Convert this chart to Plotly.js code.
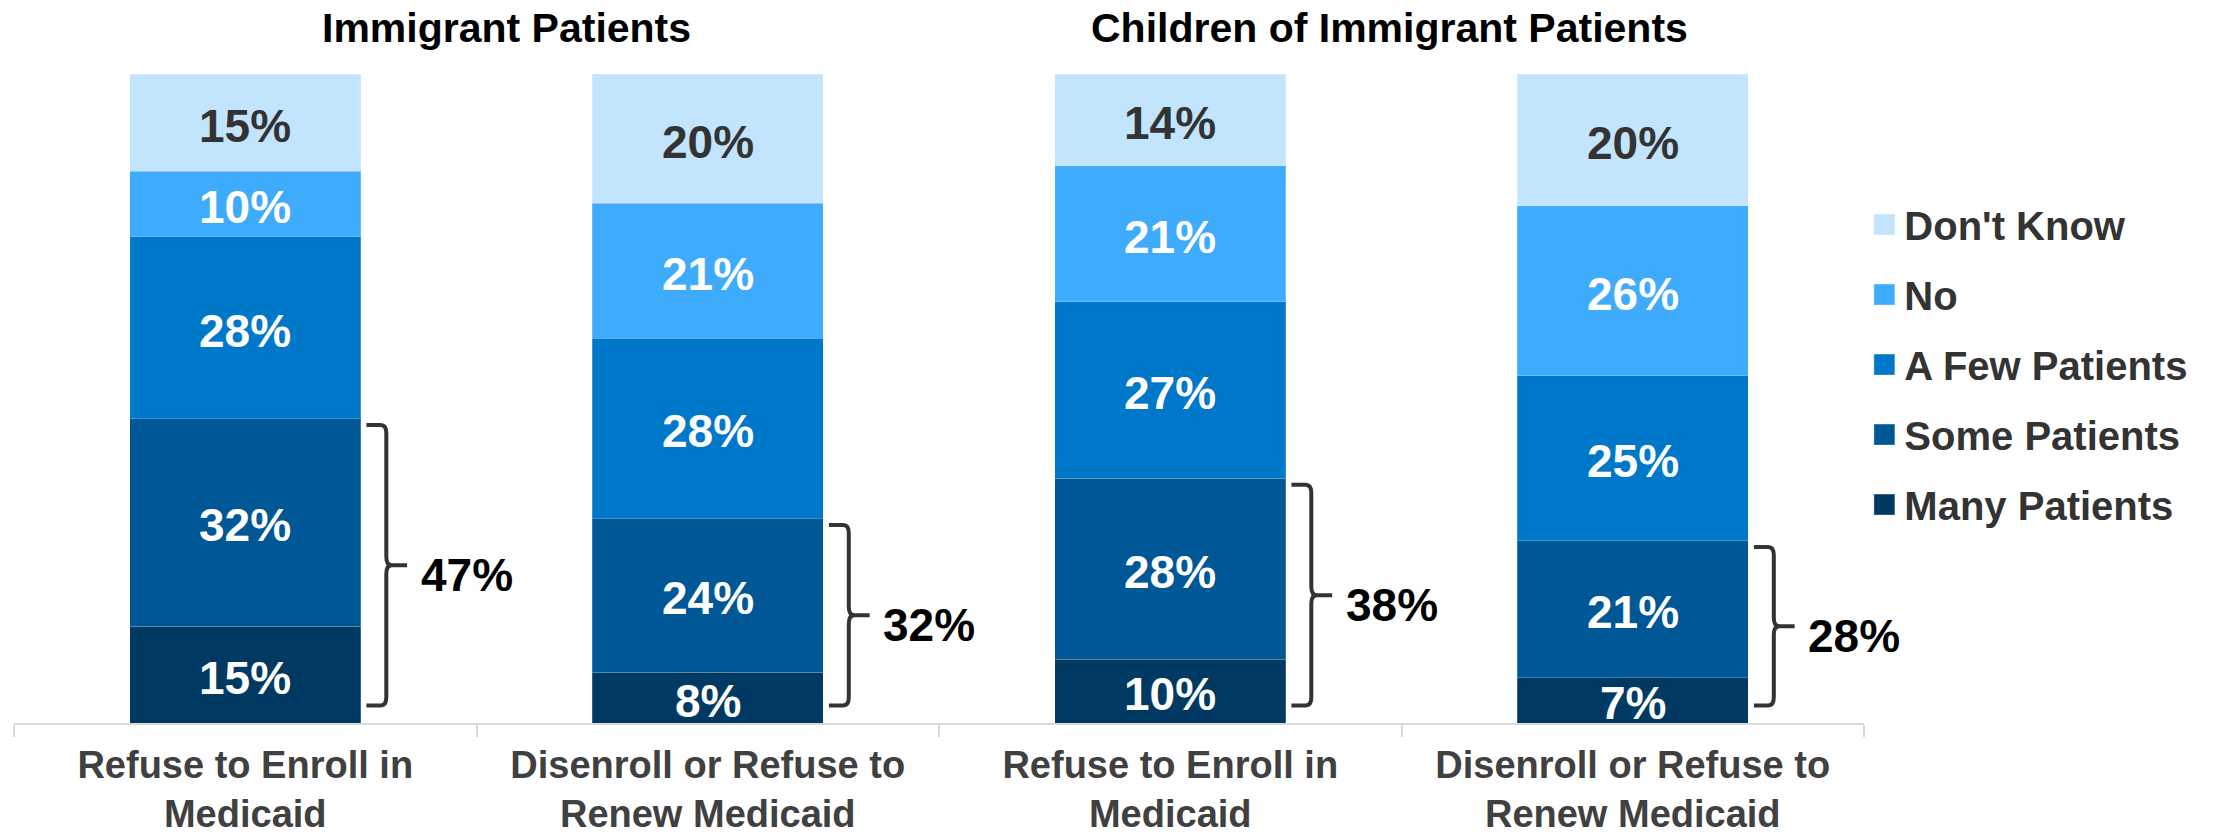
<!DOCTYPE html>
<html>
<head>
<meta charset="utf-8">
<script src="https://cdn.plot.ly/plotly-3.0.1.min.js"></script>
<style>html,body{margin:0;padding:0;background:#fff;}#chart{width:2218px;height:834px;}</style>
</head>
<body>
<div id="chart"></div>
<script>
// ---- data ----
const categories = [
  "Refuse to Enroll in<br>Medicaid",
  "Disenroll or Refuse to<br>Renew Medicaid",
  "Refuse to Enroll in<br>Medicaid",
  "Disenroll or Refuse to<br>Renew Medicaid"
];
const groupTitles = ["Immigrant Patients", "Children of Immigrant Patients"];
const seriesNames = ["Many Patients", "Some Patients", "A Few Patients", "No", "Don't Know"];

const manyPatients = [14.9, 7.8, 9.8, 7.0];
const somePatients = [32.0, 23.7, 27.9, 21.1];
const fewPatients  = [28.0, 27.8, 27.2, 25.4];
const noPatients   = [10.1, 20.8, 21.0, 26.2];
const dontKnow     = [15.0, 19.9, 14.1, 20.3];

const manyLabels = ["15%", "8%", "10%", "7%"];
const someLabels = ["32%", "24%", "28%", "21%"];
const fewLabels  = ["28%", "28%", "27%", "25%"];
const noLabels   = ["10%", "21%", "21%", "26%"];
const dkLabels   = ["15%", "20%", "14%", "20%"];
const netLabels  = ["47%", "32%", "38%", "28%"];

// ---- style ----
const FONT = "Liberation Sans, Arial, Helvetica, sans-serif";
const colors = ["#003A63", "#005796", "#0078C9", "#3FABFC", "#C2E5FD"];
const labelColors = ["#ffffff", "#ffffff", "#ffffff", "#ffffff", "#333333"];

const xIdx = categories.map((_, i) => i);
const boundaries = xIdx.map(i => i - 0.5).concat([xIdx.length - 0.5]);
const series = [manyPatients, somePatients, fewPatients, noPatients, dontKnow];
const labels = [manyLabels, someLabels, fewLabels, noLabels, dkLabels];

const traces = [];
series.forEach((vals, s) => {
  traces.push({
    type: "bar",
    name: seriesNames[s],
    x: xIdx,
    y: vals,
    width: 0.5,
    legendgroup: "g" + s,
    legendrank: series.length - s,
    marker: { color: colors[s], line: { width: 1, color: "rgba(255,255,255,0.22)" } },
    hoverinfo: "name+y"
  });
});

const annotations = [];
const shapes = [];

// segment labels, at stacked midpoints
xIdx.forEach(i => {
  let base = 0;
  series.forEach((vals, s) => {
    annotations.push({
      xref: "x", yref: "y", x: i, y: base + vals[i] / 2, yshift: -3,
      xanchor: "center", yanchor: "middle", showarrow: false,
      text: labels[s][i],
      font: { family: FONT, size: 46, weight: "bold", color: labelColors[s] }
    });
    base += vals[i];
  });
});

// brackets for Many + Some
xIdx.forEach(i => {
  const top = manyPatients[i] + somePatients[i] - 1.0;
  const bot = 2.7;
  const mid = (top + bot) / 2;
  const xh = i + 0.262, xv = i + 0.305, xt = i + 0.35, d = 1.3, e = 0.012;
  const path = `M ${xh},${top} L ${xv - e},${top} Q ${xv},${top} ${xv},${top - d} ` +
               `L ${xv},${mid + d} Q ${xv},${mid} ${xv + e},${mid} L ${xt},${mid} ` +
               `L ${xv + e},${mid} Q ${xv},${mid} ${xv},${mid - d} ` +
               `L ${xv},${bot + d} Q ${xv},${bot} ${xv - e},${bot} L ${xh},${bot}`;
  shapes.push({ type: "path", xref: "x", yref: "y", path: path,
    line: { color: "#333333", width: 4 } });
  annotations.push({
    xref: "x", yref: "y", x: i + 0.375, y: mid, yshift: -10,
    xanchor: "left", yanchor: "middle", showarrow: false,
    text: netLabels[i],
    font: { family: FONT, size: 46, weight: "bold", color: "#000000" }
  });
});

const titleX = [0.564, 2.475];
groupTitles.forEach((t, k) => {
  annotations.push({
    xref: "x", yref: "paper", x: titleX[k], y: 1.071,
    xanchor: "center", yanchor: "middle", showarrow: false,
    text: t,
    font: { family: FONT, size: 41, weight: "bold", color: "#000000" }
  });
});

const layout = {
  width: 2218, height: 834,
  margin: { l: 14, r: 354, t: 74, b: 111, pad: 0 },
  paper_bgcolor: "#ffffff", plot_bgcolor: "#ffffff",
  barmode: "stack",
  font: { family: FONT, color: "#333333" },
  showlegend: true,
  legend: {
    x: 1.0002, xanchor: "left", y: 0.818, yanchor: "top",
    traceorder: "grouped", tracegroupgap: 15,
    itemwidth: 30,
    font: { family: FONT, size: 40, weight: "bold", color: "#333333" },
    bgcolor: "rgba(0,0,0,0)", borderwidth: 0,
    itemclick: false, itemdoubleclick: false
  },
  xaxis: {
    type: "linear",
    range: [-0.5, xIdx.length - 0.5],
    tickmode: "array", tickvals: xIdx, ticktext: categories,
    ticks: "outside", ticklen: 7, tickcolor: "rgba(0,0,0,0)",
    tickfont: { family: FONT, size: 38, weight: "bold", color: "#404040" },
    minor: { tickmode: "array", tickvals: boundaries, ticks: "outside",
             ticklen: 12, tickwidth: 2, tickcolor: "#d9d9d9", showgrid: false },
    showline: true, linecolor: "#d9d9d9", linewidth: 2,
    showgrid: false, zeroline: false, fixedrange: true
  },
  yaxis: { range: [0, 100], visible: false, fixedrange: true, showgrid: false, zeroline: false },
  shapes: shapes,
  annotations: annotations
};

Plotly.newPlot("chart", traces, layout, { staticPlot: true, displayModeBar: false }).then(gd => {
  gd.querySelectorAll(".legend .legendpoints path").forEach(p => {
    const t = p.getAttribute("transform") || "";
    p.setAttribute("transform", t + " scale(1.75)");
  });
});
</script>
</body>
</html>
